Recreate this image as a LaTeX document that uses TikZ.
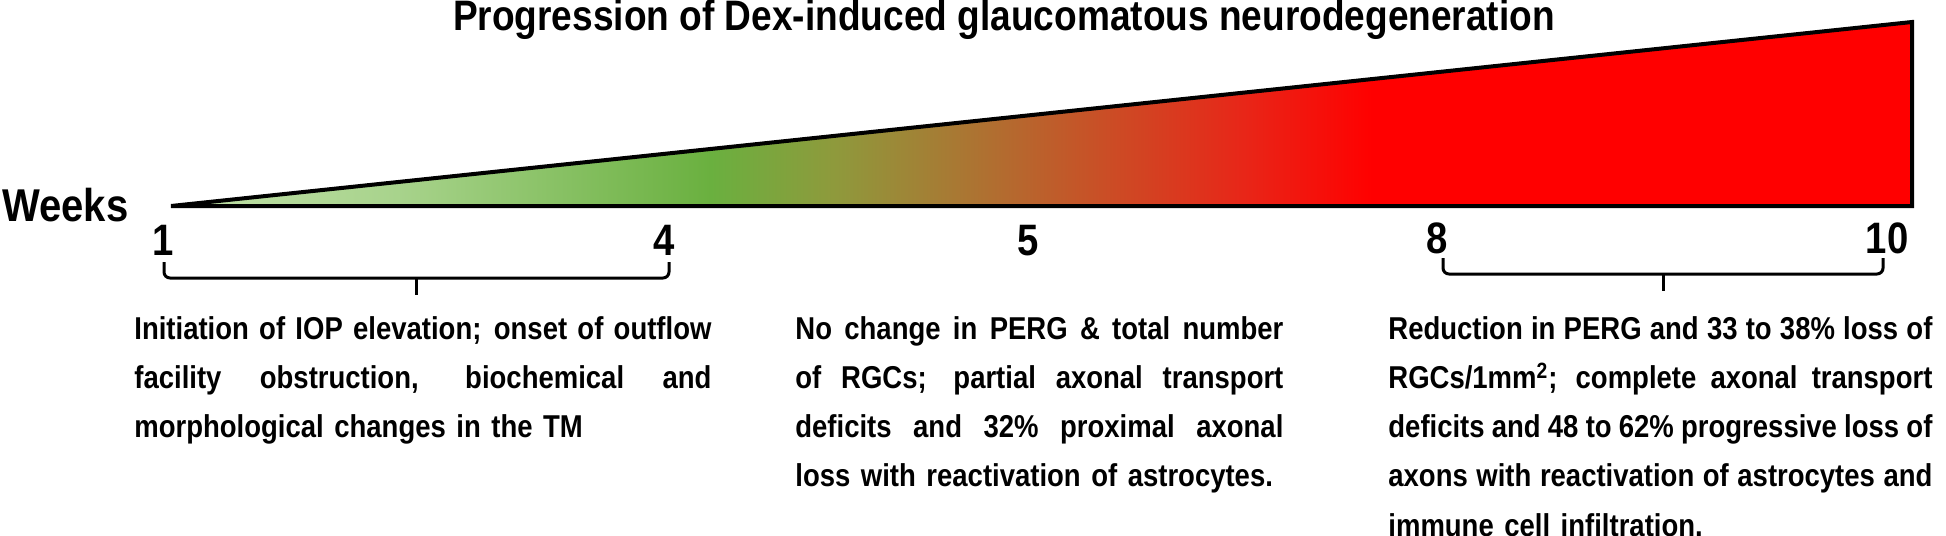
\documentclass[tikz,border=0pt]{standalone}
\usepackage{fontspec}
\setmainfont{Liberation Sans}
\newfontfamily\tallfont[FakeStretch=0.87]{Liberation Sans}
\usepackage{tikz}

\definecolor{dexpale}{RGB}{192,224,168}
\definecolor{dexlight}{RGB}{168,211,140}
\definecolor{dexgreen}{RGB}{106,176,63}
\definecolor{dexolive}{RGB}{142,154,60}
\definecolor{dexbrown}{RGB}{172,116,50}
\definecolor{dexrust}{RGB}{202,78,38}
\definecolor{dexscarlet}{RGB}{232,38,24}
\definecolor{dexred}{RGB}{255,0,0}

% the path is fitted to the 25bp--75bp part of the shading
\pgfdeclarehorizontalshading{dexprogress}{100bp}{color(0bp)=(dexpale); color(25bp)=(dexpale);
  color(31.5bp)=(dexlight); color(40.5bp)=(dexgreen); color(44bp)=(dexolive); color(48bp)=(dexbrown);
  color(51.8bp)=(dexrust); color(55.8bp)=(dexscarlet); color(59.5bp)=(dexred); color(100bp)=(dexred)}

% one justified line of a paragraph
\newcommand{\jline}[1]{{\spaceskip=3pt plus 1fil minus 1pt\makebox[\hsize][s]{#1}}}

\begin{document}
\begin{tikzpicture}[x=0.5pt, y=-0.5pt, every node/.style={inner sep=0pt, font=\tallfont\bfseries},
    weeknum/.style={anchor=base, font=\tallfont\fontsize{22}{26}\selectfont\bfseries},
    para/.style={anchor=north west, align=left, font=\tallfont\fontsize{15.8}{24.6}\selectfont\bfseries},
    bracket/.style={line width=1.5pt, rounded corners=3pt}]
    \useasboundingbox (0,0) rectangle (1946,535);

    % title
    \node[anchor=base, font=\tallfont\fontsize{21.3}{24}\selectfont\bfseries] (title) at (1004,31)
        {Progression of Dex-induced glaucomatous neurodegeneration};

    % wedge
    \coordinate (apex) at (171,206);
    \coordinate (baseR) at (1912,206);
    \coordinate (topR) at (1912,22);
    \shadedraw[shading=dexprogress, line width=2pt] (apex) -- (baseR) -- (topR) -- cycle;

    % weeks
    \node[anchor=base west, font=\tallfont\fontsize{23}{26}\selectfont\bfseries] (weeks) at (2,221) {Weeks};
    \node[weeknum] (w1) at (163,255) {1};
    \node[weeknum] (w4) at (664,255) {4};
    \node[weeknum] (w5) at (1028,255) {5};
    \node[weeknum] (w8) at (1437,253) {8};
    \node[weeknum] (w10) at (1887,253) {10};

    % brackets
    \coordinate (b1l) at (164,262);
    \coordinate (b1r) at (669,262);
    \coordinate (b1m) at (416,278);
    \draw[bracket] (b1l) |- (b1m) -| (b1r);
    \draw[line width=1.5pt] (b1m) -- ++(0,17);
    \coordinate (b2l) at (1443,258);
    \coordinate (b2r) at (1883,258);
    \coordinate (b2m) at (1663,274);
    \draw[bracket] (b2l) |- (b2m) -| (b2r);
    \draw[line width=1.5pt] (b2m) -- ++(0,17);

    % findings
    \node[para, text width=288.5pt] (early) at (134,316)
        {\jline{Initiation of IOP elevation; onset of outflow}\\
         \jline{facility obstruction, biochemical and}\\
         morphological changes in the TM};
    \node[para, text width=244pt] (middle) at (795,316)
        {\jline{No change in PERG \& total number}\\
         \jline{of RGCs; partial axonal transport}\\
         \jline{deficits and 32\% proximal axonal}\\
         loss with reactivation of astrocytes.};
    \node[para, text width=272pt] (late) at (1388,316)
        {\jline{Reduction in PERG and 33 to 38\% loss of}\\
         \jline{RGCs/1mm\textsuperscript{2}; complete axonal transport}\\
         \jline{deficits and 48 to 62\% progressive loss of}\\
         \jline{axons with reactivation of astrocytes and}\\
         immune cell infiltration.};
\end{tikzpicture}
\end{document}
